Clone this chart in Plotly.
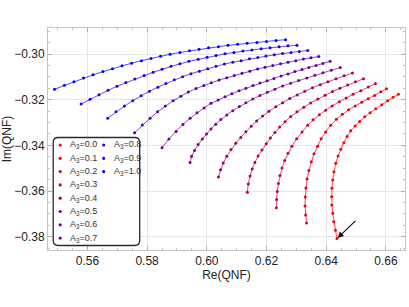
import plotly.graph_objects as go

a3_values = [0.0, 0.1, 0.2, 0.3, 0.4, 0.5, 0.6, 0.7, 0.8, 0.9, 1.0]

re_a00 = [0.6436, 0.6431, 0.6425, 0.6422, 0.6419, 0.6418, 0.6419, 0.6422, 0.6426, 0.6432, 0.6440, 0.6449, 0.6459, 0.6470, 0.6482, 0.6497, 0.6512, 0.6529, 0.6547, 0.6566, 0.6586, 0.6606, 0.6624, 0.6642]
im_a00 = [-0.3808, -0.3771, -0.3734, -0.3697, -0.3661, -0.3625, -0.3588, -0.3551, -0.3515, -0.3478, -0.3446, -0.3417, -0.3388, -0.3361, -0.3336, -0.3315, -0.3295, -0.3275, -0.3257, -0.3240, -0.3222, -0.3205, -0.3189, -0.3176]

re_a01 = [0.6334, 0.6331, 0.6329, 0.6330, 0.6332, 0.6336, 0.6342, 0.6350, 0.6359, 0.6371, 0.6383, 0.6398, 0.6415, 0.6434, 0.6454, 0.6475, 0.6497, 0.6519, 0.6541, 0.6562, 0.6583, 0.6602]
im_a01 = [-0.3740, -0.3705, -0.3665, -0.3626, -0.3586, -0.3547, -0.3510, -0.3472, -0.3437, -0.3404, -0.3371, -0.3341, -0.3312, -0.3286, -0.3264, -0.3244, -0.3227, -0.3211, -0.3196, -0.3181, -0.3165, -0.3152]

re_a02 = [0.6233, 0.6234, 0.6236, 0.6240, 0.6245, 0.6252, 0.6261, 0.6272, 0.6285, 0.6301, 0.6319, 0.6338, 0.6356, 0.6377, 0.6398, 0.6420, 0.6444, 0.6467, 0.6490, 0.6516, 0.6541, 0.6565]
im_a02 = [-0.3673, -0.3637, -0.3602, -0.3567, -0.3532, -0.3499, -0.3466, -0.3434, -0.3404, -0.3371, -0.3341, -0.3312, -0.3288, -0.3266, -0.3246, -0.3227, -0.3209, -0.3193, -0.3176, -0.3161, -0.3144, -0.3129]

re_a03 = [0.6136, 0.6139, 0.6145, 0.6152, 0.6161, 0.6172, 0.6185, 0.6199, 0.6213, 0.6228, 0.6244, 0.6262, 0.6281, 0.6302, 0.6325, 0.6348, 0.6372, 0.6396, 0.6421, 0.6446, 0.6472, 0.6498, 0.6525]
im_a03 = [-0.3605, -0.3569, -0.3534, -0.3503, -0.3475, -0.3446, -0.3420, -0.3393, -0.3368, -0.3344, -0.3320, -0.3297, -0.3274, -0.3253, -0.3233, -0.3214, -0.3197, -0.3180, -0.3164, -0.3150, -0.3136, -0.3121, -0.3108]

re_a04 = [0.6039, 0.6046, 0.6055, 0.6067, 0.6081, 0.6097, 0.6114, 0.6131, 0.6149, 0.6167, 0.6187, 0.6208, 0.6231, 0.6254, 0.6278, 0.6303, 0.6328, 0.6354, 0.6380, 0.6406, 0.6433, 0.6460, 0.6488]
im_a04 = [-0.3538, -0.3507, -0.3477, -0.3447, -0.3418, -0.3391, -0.3365, -0.3340, -0.3316, -0.3293, -0.3271, -0.3251, -0.3231, -0.3213, -0.3195, -0.3179, -0.3163, -0.3148, -0.3134, -0.3121, -0.3108, -0.3095, -0.3083]

re_a05 = [0.5944, 0.5949, 0.5959, 0.5971, 0.5985, 0.5999, 0.6014, 0.6030, 0.6047, 0.6067, 0.6087, 0.6109, 0.6131, 0.6154, 0.6178, 0.6203, 0.6228, 0.6254, 0.6281, 0.6308, 0.6335, 0.6362, 0.6389, 0.6417, 0.6447]
im_a05 = [-0.3475, -0.3448, -0.3422, -0.3396, -0.3372, -0.3350, -0.3328, -0.3307, -0.3287, -0.3267, -0.3248, -0.3230, -0.3213, -0.3197, -0.3182, -0.3167, -0.3154, -0.3140, -0.3128, -0.3116, -0.3105, -0.3093, -0.3082, -0.3071, -0.3059]

re_a06 = [0.5850, 0.5873, 0.5897, 0.5920, 0.5944, 0.5967, 0.5991, 0.6014, 0.6038, 0.6061, 0.6084, 0.6108, 0.6131, 0.6155, 0.6178, 0.6202, 0.6225, 0.6249, 0.6272, 0.6295, 0.6319, 0.6342, 0.6366, 0.6389, 0.6413]
im_a06 = [-0.3410, -0.3372, -0.3339, -0.3308, -0.3281, -0.3257, -0.3236, -0.3216, -0.3201, -0.3187, -0.3174, -0.3161, -0.3150, -0.3138, -0.3127, -0.3117, -0.3107, -0.3096, -0.3087, -0.3077, -0.3068, -0.3059, -0.3050, -0.3041, -0.3032]

re_a07 = [0.5758, 0.5784, 0.5810, 0.5835, 0.5861, 0.5887, 0.5913, 0.5938, 0.5964, 0.5990, 0.6015, 0.6041, 0.6067, 0.6092, 0.6118, 0.6144, 0.6170, 0.6195, 0.6221, 0.6247, 0.6272, 0.6298, 0.6324, 0.6349, 0.6375]
im_a07 = [-0.3345, -0.3311, -0.3281, -0.3253, -0.3228, -0.3205, -0.3185, -0.3166, -0.3151, -0.3138, -0.3126, -0.3114, -0.3104, -0.3094, -0.3084, -0.3075, -0.3066, -0.3058, -0.3050, -0.3043, -0.3036, -0.3029, -0.3022, -0.3016, -0.3011]

re_a08 = [0.5668, 0.5696, 0.5724, 0.5752, 0.5780, 0.5808, 0.5836, 0.5863, 0.5891, 0.5919, 0.5947, 0.5975, 0.6003, 0.6031, 0.6059, 0.6087, 0.6115, 0.6143, 0.6171, 0.6198, 0.6226, 0.6254, 0.6282, 0.6310, 0.6338]
im_a08 = [-0.3281, -0.3253, -0.3228, -0.3204, -0.3183, -0.3163, -0.3145, -0.3129, -0.3113, -0.3099, -0.3086, -0.3075, -0.3064, -0.3054, -0.3044, -0.3036, -0.3029, -0.3021, -0.3015, -0.3009, -0.3003, -0.2998, -0.2993, -0.2989, -0.2984]

re_a09 = [0.5579, 0.5609, 0.5639, 0.5669, 0.5699, 0.5729, 0.5759, 0.5790, 0.5820, 0.5850, 0.5880, 0.5910, 0.5940, 0.5971, 0.6001, 0.6031, 0.6061, 0.6091, 0.6121, 0.6151, 0.6182, 0.6212, 0.6242, 0.6272, 0.6302]
im_a09 = [-0.3219, -0.3198, -0.3178, -0.3159, -0.3141, -0.3125, -0.3109, -0.3094, -0.3080, -0.3067, -0.3054, -0.3043, -0.3032, -0.3023, -0.3014, -0.3006, -0.2999, -0.2993, -0.2987, -0.2982, -0.2977, -0.2973, -0.2968, -0.2964, -0.2961]

re_a10 = [0.5490, 0.5523, 0.5555, 0.5587, 0.5619, 0.5652, 0.5684, 0.5716, 0.5748, 0.5781, 0.5813, 0.5845, 0.5877, 0.5910, 0.5942, 0.5974, 0.6006, 0.6039, 0.6071, 0.6103, 0.6135, 0.6168, 0.6200, 0.6232, 0.6264]
im_a10 = [-0.3154, -0.3137, -0.3121, -0.3105, -0.3091, -0.3077, -0.3064, -0.3051, -0.3040, -0.3029, -0.3019, -0.3010, -0.3001, -0.2993, -0.2986, -0.2979, -0.2973, -0.2968, -0.2962, -0.2957, -0.2953, -0.2949, -0.2945, -0.2941, -0.2937]

x_ticks = [0.56, 0.58, 0.60, 0.62, 0.64, 0.66]
y_ticks = [-0.30, -0.32, -0.34, -0.36, -0.38]

re_series = [re_a00, re_a01, re_a02, re_a03, re_a04, re_a05, re_a06, re_a07, re_a08, re_a09, re_a10]
im_series = [im_a00, im_a01, im_a02, im_a03, im_a04, im_a05, im_a06, im_a07, im_a08, im_a09, im_a10]

FONT = "Liberation Sans, Arial, sans-serif"


def blend(a, alpha=1.0):
    r = round(255 * (1 - a))
    b = round(255 * a)
    return f"rgba({r},0,{b},{alpha})"


fig = go.Figure()
for a, xs, ys in zip(a3_values, re_series, im_series):
    fig.add_trace(go.Scatter(
        x=xs, y=ys, mode="lines+markers",
        line=dict(color=blend(a, 0.7), width=1),
        marker=dict(color=blend(a), size=3),
        name=f"A3={a:.1f}", showlegend=False, hoverinfo="x+y",
    ))

# two-column legend inside a rounded box
shapes = []
box_w, box_h, rad = 86.5, 108, 5
path = (f"M {rad},0 L {box_w-rad},0 Q {box_w},0 {box_w},{-rad} "
        f"L {box_w},{-box_h+rad} Q {box_w},{-box_h} {box_w-rad},{-box_h} "
        f"L {rad},{-box_h} Q 0,{-box_h} 0,{-box_h+rad} L 0,{-rad} Q 0,0 {rad},0 Z")
shapes.append(dict(type="path", xref="paper", yref="paper", xsizemode="pixel", ysizemode="pixel",
                   xanchor=0.0146, yanchor=0.5068, path=path,
                   line=dict(color="#2a2a2a", width=1.3), fillcolor="white", layer="above"))

annotations = []
row_y = [0.4730, 0.4131, 0.3532, 0.2932, 0.2333, 0.1734, 0.1135, 0.0536]
for i, a in enumerate(a3_values):
    if i < 8:
        dot_x, txt_x, yy = 0.0342, 0.0552, row_y[i]
    else:
        dot_x, txt_x, yy = 0.1560, 0.1779, row_y[i - 8]
    shapes.append(dict(type="circle", xref="paper", yref="paper", xsizemode="pixel", ysizemode="pixel",
                       xanchor=dot_x, yanchor=yy, x0=-1.6, x1=1.6, y0=-1.6, y1=1.6,
                       fillcolor=blend(a), line=dict(width=0), layer="above"))
    annotations.append(dict(xref="paper", yref="paper", x=txt_x, y=yy, xanchor="left", yanchor="middle",
                            text=f"A<sub>3</sub>={a:.1f}", showarrow=False,
                            font=dict(size=9, color="#333333", family=FONT)))

# arrow pointing to the start of the A3=0.0 branch
annotations.append(dict(x=re_a00[0], y=im_a00[0], xref="x", yref="y",
                        ax=0.6503, ay=-0.3724, axref="x", ayref="y",
                        showarrow=True, arrowhead=2, arrowsize=1, arrowwidth=1.2,
                        arrowcolor="#111111", text=" ", font=dict(size=1), standoff=1))

axis_common = dict(
    showgrid=True, gridcolor="#e6e6e6", gridwidth=1,
    showline=True, linecolor="#c4c4c4", linewidth=1, mirror="allticks",
    ticks="inside", ticklen=4, tickcolor="#b0b0b0", tickwidth=1,
    tickfont=dict(size=12, color="#222222", family=FONT),
    zeroline=False, automargin=False,
)

fig.update_layout(
    width=409, height=307,
    margin=dict(l=48, r=4, t=28, b=57, autoexpand=False),
    paper_bgcolor="white", plot_bgcolor="white",
    font=dict(family=FONT, color="#222222", size=12),
    xaxis=dict(range=[0.5468, 0.6664], tickvals=x_ticks, tickformat=".2f",
               minor=dict(ticks="inside", ticklen=2, dtick=0.005, tickcolor="#c0c0c0", showgrid=False),
               title=dict(text="Re(QNF)", font=dict(size=12, color="#222222", family=FONT), standoff=3),
               **axis_common),
    yaxis=dict(range=[-0.3858, -0.2886], tickvals=y_ticks, tickformat=".2f",
               minor=dict(ticks="inside", ticklen=2, dtick=0.005, tickcolor="#c0c0c0", showgrid=False),
               title=dict(text="Im(QNF)", font=dict(size=12, color="#222222", family=FONT), standoff=2),
               **axis_common),
    shapes=shapes,
    annotations=annotations,
)

fig.write_html("out.html", config={"displayModeBar": False},
               post_script="document.body.style.margin='0px';document.body.style.padding='0px';")
